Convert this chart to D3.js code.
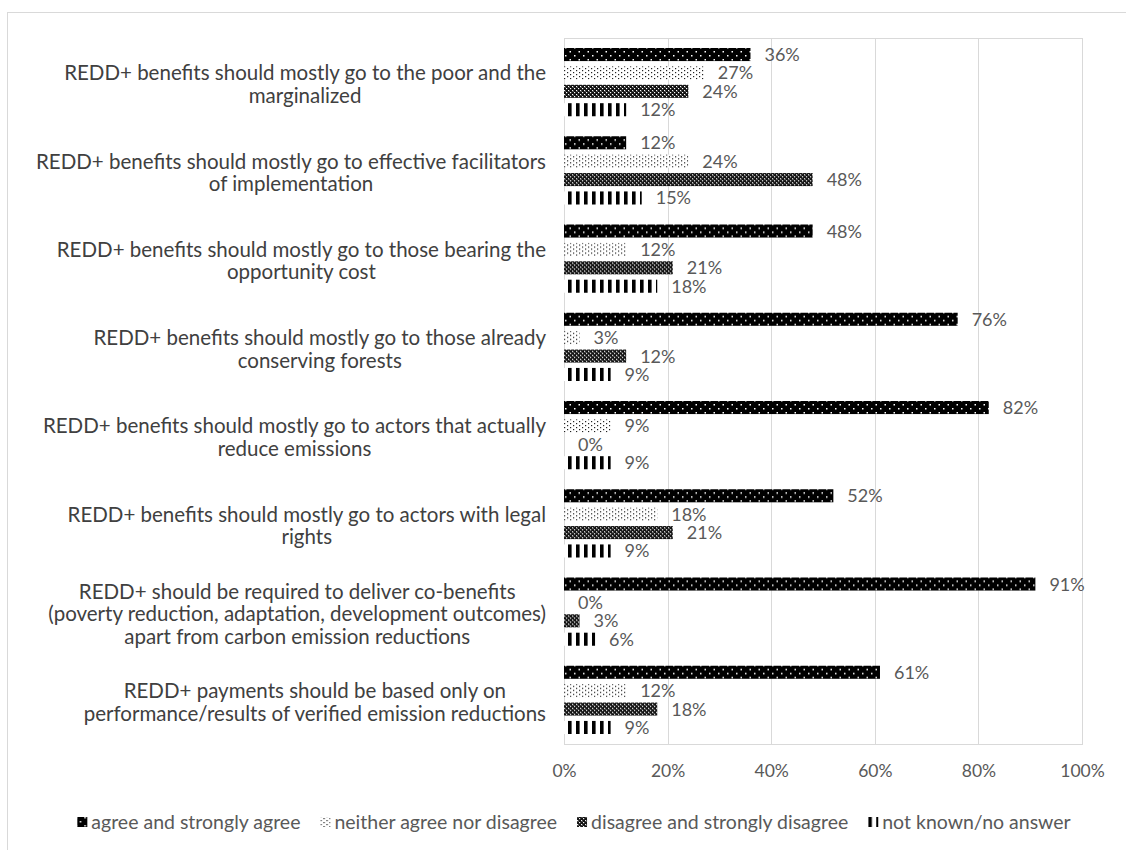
<!DOCTYPE html>
<html>
<head>
<meta charset="utf-8">
<script src="https://cdn.jsdelivr.net/npm/d3@7"></script>
<style>
  html, body { margin: 0; padding: 0; background: #fff; }
  svg { display: block; }
  text { font-family: Lato, "Open Sans", sans-serif; }
</style>
</head>
<body>
<svg id="chart" width="1126" height="850"></svg>
<script>
const categories = [
  ["REDD+ benefits should mostly go to the poor and the", "marginalized"],
  ["REDD+ benefits should mostly go to effective facilitators", "of implementation"],
  ["REDD+ benefits should mostly go to those bearing the", "opportunity cost"],
  ["REDD+ benefits should mostly go to those already", "conserving forests"],
  ["REDD+ benefits should mostly go to actors that actually", "reduce emissions"],
  ["REDD+ benefits should mostly go to actors with legal", "rights"],
  ["REDD+ should be required to deliver co-benefits", "(poverty reduction, adaptation, development outcomes)", "apart from carbon emission reductions"],
  ["REDD+ payments should be based only on", "performance/results of verified emission reductions"]
];
const seriesNames = ["agree and strongly agree", "neither agree nor disagree", "disagree and strongly disagree", "not known/no answer"];
const agree    = [36, 12, 48, 76, 82, 52, 91, 61];
const neither  = [27, 24, 12, 3, 9, 18, 0, 12];
const disagree = [24, 48, 21, 12, 0, 21, 3, 18];
const notKnown = [12, 15, 18, 9, 9, 9, 6, 9];
const xTicks = [0, 20, 40, 60, 80, 100];

const seriesValues = [agree, neither, disagree, notKnown];
const patternIds = ["pAgree", "pNeither", "pDisagree", "pNotKnown"];

const svg = d3.select("#chart");
const W = 1126, H = 850;
const plot = { left: 564, right: 1082, top: 38, bottom: 744 };

// outer chart border
svg.append("rect").attr("x", 7.5).attr("y", 12.5).attr("width", W).attr("height", H)
  .attr("fill", "none").attr("stroke", "#d9d9d9").attr("stroke-width", 1);

// patterns
const defs = svg.append("defs");
{
  const p = defs.append("pattern").attr("id", "pAgree").attr("patternUnits", "userSpaceOnUse")
    .attr("x", plot.left).attr("y", 0).attr("width", 9).attr("height", 8);
  p.append("rect").attr("width", 9).attr("height", 8).attr("fill", "#000");
  p.append("rect").attr("x", 1).attr("y", 1).attr("width", 1.5).attr("height", 1.5).attr("fill", "#fff");
  p.append("rect").attr("x", 5.5).attr("y", 5).attr("width", 1.5).attr("height", 1.5).attr("fill", "#fff");
}
{
  const p = defs.append("pattern").attr("id", "pNeither").attr("patternUnits", "userSpaceOnUse")
    .attr("x", plot.left).attr("y", 0).attr("width", 6).attr("height", 4);
  p.append("rect").attr("width", 6).attr("height", 4).attr("fill", "#fff");
  p.append("rect").attr("x", 0).attr("y", 0).attr("width", 1.2).attr("height", 1.2).attr("fill", "#222");
  p.append("rect").attr("x", 3).attr("y", 2).attr("width", 1.2).attr("height", 1.2).attr("fill", "#222");
}
{
  const p = defs.append("pattern").attr("id", "pDisagree").attr("patternUnits", "userSpaceOnUse")
    .attr("x", plot.left).attr("y", 0).attr("width", 4).attr("height", 4);
  p.append("rect").attr("width", 4).attr("height", 4).attr("fill", "#111");
  p.append("rect").attr("x", 0).attr("y", 0).attr("width", 1.2).attr("height", 1.2).attr("fill", "#fff");
  p.append("rect").attr("x", 2).attr("y", 2).attr("width", 1.2).attr("height", 1.2).attr("fill", "#fff");
  p.append("rect").attr("x", 1).attr("y", 1).attr("width", 0.8).attr("height", 0.8).attr("fill", "#777");
}
{
  const p = defs.append("pattern").attr("id", "pNotKnown").attr("patternUnits", "userSpaceOnUse")
    .attr("x", plot.left).attr("y", 0).attr("width", 8).attr("height", 8);
  p.append("rect").attr("width", 8).attr("height", 8).attr("fill", "#fff");
  p.append("rect").attr("x", 4).attr("y", 0).attr("width", 3.6).attr("height", 8).attr("fill", "#000");
}

const x = d3.scaleLinear().domain([0, 100]).range([plot.left, plot.right]);
const y0 = d3.scaleBand().domain(d3.range(categories.length)).range([plot.top, plot.bottom]).paddingInner(0).paddingOuter(0);
const y1 = d3.scaleBand().domain(d3.range(seriesValues.length)).range([10, y0.bandwidth() - 10]).paddingInner(0.29).paddingOuter(0);

// gridlines
svg.append("g").selectAll("line").data(xTicks).join("line")
  .attr("x1", d => Math.round(x(d)) + 0.5).attr("x2", d => Math.round(x(d)) + 0.5)
  .attr("y1", plot.top).attr("y2", plot.bottom)
  .attr("stroke", "#d9d9d9").attr("stroke-width", 1);
svg.append("rect").attr("x", plot.left + 0.5).attr("y", plot.top + 0.5)
  .attr("width", plot.right - plot.left).attr("height", plot.bottom - plot.top)
  .attr("fill", "none").attr("stroke", "#d9d9d9");

// x axis
const xAxis = d3.axisBottom(x).tickValues(xTicks).tickFormat(d => d + "%").tickSize(0).tickPadding(0);
const gx = svg.append("g").attr("transform", `translate(0,${plot.bottom + 21})`).call(xAxis);
gx.select(".domain").remove();
gx.selectAll("text").attr("font-size", 17.5).attr("fill", "#595959").attr("dy", "0.71em")
  .style("font-family", "Lato, 'Open Sans', sans-serif");

// bars
const groups = svg.append("g").selectAll("g").data(categories).join("g")
  .attr("transform", (d, i) => `translate(0,${y0(i)})`);

seriesValues.forEach((vals, s) => {
  groups.append("rect")
    .attr("x", x(0))
    .attr("y", (d, i) => y1(s))
    .attr("width", (d, i) => x(vals[i]) - x(0))
    .attr("height", y1.bandwidth())
    .attr("fill", `url(#${patternIds[s]})`);
  groups.append("text")
    .attr("x", (d, i) => x(vals[i]) + 14)
    .attr("y", (d, i) => y1(s) + y1.bandwidth() / 2)
    .attr("dy", "0.36em")
    .attr("font-size", 18)
    .attr("fill", "#595959")
    .text((d, i) => vals[i] + "%");
});

// category labels
const labelRight = 546;
const lineH = 22.5;
groups.each(function(lines, i) {
  const g = d3.select(this);
  const t = g.append("text").attr("font-size", 20.5).attr("fill", "#404040").attr("text-anchor", "middle");
  const n = lines.length;
  const cy = y0.bandwidth() / 2 + 2;
  const spans = lines.map((ln, k) => t.append("tspan")
    .attr("y", cy + (k - (n - 1) / 2) * lineH).attr("dy", "0.36em").text(ln));
  const maxW = d3.max(spans, sp => sp.node().getComputedTextLength());
  spans.forEach(sp => sp.attr("x", labelRight - maxW / 2));
});

// legend
const legend = svg.append("g");
const legY = 822;
let lx = 0;
seriesNames.forEach((name, s) => {
  const it = legend.append("g").attr("transform", `translate(${lx},0)`);
  it.append("rect").attr("x", 0).attr("y", legY - 5).attr("width", 10).attr("height", 10)
    .attr("fill", `url(#${patternIds[s]})`);
  const tx = it.append("text").attr("x", 14).attr("y", legY).attr("dy", "0.36em")
    .attr("font-size", 19.5).attr("fill", "#595959").text(name);
  lx += 14 + tx.node().getComputedTextLength() + 20;
});
const legW = lx - 20;
legend.attr("transform", `translate(${574 - legW / 2},0)`);
</script>
</body>
</html>
